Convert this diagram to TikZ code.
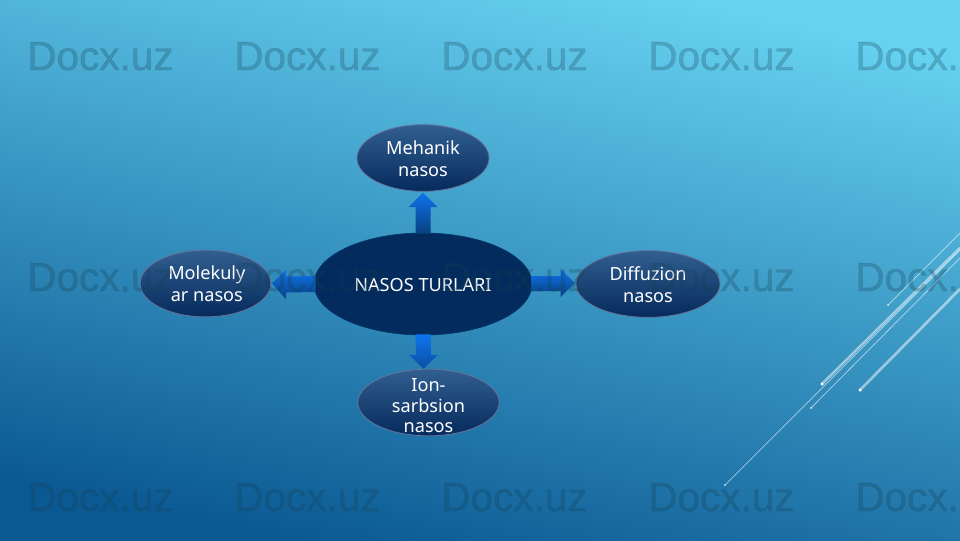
\documentclass[tikz,border=0pt]{standalone}
\usepackage{fontspec}
\setmainfont{Noto Sans}
\newfontfamily\wmfont[FakeBold=0.7]{Liberation Sans}
\usetikzlibrary{shapes.geometric,calc}
\definecolor{bgtop}{HTML}{66D1F0}
\definecolor{bgmid}{HTML}{3E9BC4}
\definecolor{bgbot}{HTML}{0B5993}
\definecolor{ovaltop}{HTML}{315F90}
\definecolor{ovalbot}{HTML}{062A5C}
\definecolor{ovaledge}{HTML}{66749A}
\definecolor{hubfill}{HTML}{032B5E}
\definecolor{arrowhi}{HTML}{0F74F0}
\definecolor{arrowlo}{HTML}{07407F}
\definecolor{wmcol}{HTML}{143F50}
\newcommand\ovalshift[3]{\smash{\raisebox{#2}{\makebox[0pt]{\fontsize{13.6}{#1}\selectfont\begin{tabular}{@{}c@{}}#3\end{tabular}}}}}
\newcommand\ovaltext[2][16.5pt]{\ovalshift{#1}{-5.8pt}{#2}}
\tikzset{
  x=.75pt,y=-.75pt,
  oval/.style={ellipse,inner sep=0pt,draw=ovaledge,line width=.6pt,top color=ovaltop,bottom color=ovalbot,text=white},
  hub/.style={ellipse,inner sep=0pt,draw=hubfill!85!teal,line width=.5pt,fill=hubfill,text=white},
  blockarrow/.style={top color=arrowhi,bottom color=arrowlo},
  blockarrowdown/.style={top color=arrowhi,bottom color=arrowlo!70!arrowhi},
  wm/.style={font=\wmfont\fontsize{30.4}{32}\selectfont,text=wmcol,opacity=.26,inner sep=0pt,anchor=base west},
  thinray/.style={white,opacity=.6,line width=.55pt},
  wideray/.style={white,opacity=.5,line width=2pt},
  raydot/.style={fill=white,circle,inner sep=0pt,minimum size=2.2pt}
}
\begin{document}
\begin{tikzpicture}
\useasboundingbox (0,0) rectangle (960,540);
\clip (0,0) rectangle (960,540);
\shade[top color=bgtop,middle color=bgmid,bottom color=bgbot,shading angle=-12] (0,0) rectangle (960,540);
% decorative rays
\coordinate (ra1) at (888,305); \coordinate (ra2) at (960,233);
\coordinate (rb1) at (822,384); \coordinate (rb2) at (960,248);
\coordinate (rc1) at (725,485); \coordinate (rc2) at (960,250);
\coordinate (rd1) at (811,408); \coordinate (rd2) at (960,258);
\coordinate (re1) at (860,390); \coordinate (re2) at (960,289);
\draw[thinray] (ra1) -- (ra2);
\draw[wideray] (rb1) -- (rb2);
\draw[thinray] (rc1) -- (rc2);
\draw[thinray] (rd1) -- (rd2);
\draw[wideray] (re1) -- (re2);
\node[raydot,minimum size=1.4pt] (da) at (ra1) {};
\node[raydot,minimum size=2.6pt] (db) at (rb1) {};
\node[raydot,minimum size=1.4pt] (dc) at (rc1) {};
\node[raydot,minimum size=1.4pt] (dd) at (rd1) {};
\node[raydot,minimum size=2.6pt] (de) at (re1) {};
% nodes
\node[hub,minimum width=163.5pt,minimum height=76.5pt] (hubn) at (423,284) {\ovaltext{NASOS TURLARI}};
\node[oval,minimum width=99pt,minimum height=50pt] (mech) at (423,158) {\ovaltext[17pt]{Mehanik\\nasos}};
\node[oval,minimum width=98pt,minimum height=50pt] (mol) at (205.5,283.5) {\ovaltext{\hspace*{2pt}Molekuly\\\hspace*{2pt}ar nasos}};
\node[oval,minimum width=108pt,minimum height=50pt] (dif) at (648,284) {\ovaltext{Diffuzion\\nasos}};
\node[oval,minimum width=106pt,minimum height=50pt] (ion) at (428.5,402.5) {\ovalshift{15.6pt}{-7.6pt}{Ion-\\sarbsion\\nasos}};
% block arrows
\shade[blockarrow] (mech.south) ++(0,1) -- ++(14.5,14.5) -- ++(-7,0) -- ($(hubn.north)+(7.5,1)$) -- ($(hubn.north)+(-7.5,1)$) -- ($(mech.south)+(-7.5,15.5)$) -- ++(-7,0) -- cycle;
\shade[blockarrow] (dif.west) ++(-1,-1) -- ++(-14,-14) -- ++(0,7) -- ($(hubn.east)+(-1,-8)$) -- ($(hubn.east)+(-1,7)$) -- ($(dif.west)+(-15,7)$) -- ++(0,6) -- cycle;
\shade[blockarrow] (mol.east) ++(1,0) -- ++(14,-14) -- ++(0,7) -- ($(hubn.west)+(2,-8)$) -- ($(hubn.west)+(2,8)$) -- ($(mol.east)+(15,9)$) -- ++(0,7) -- cycle;
\shade[blockarrowdown] ($(hubn.south)+(-7.5,-1)$) -- ($(hubn.south)+(7.5,-1)$) -- ($(ion.north)+(2.5,-14)$) -- ++(7,0) -- ($(ion.north)+(-5,0)$) -- ($(ion.north)+(-19.5,-14)$) -- ++(7,0) -- cycle;
% watermark
\foreach \yy/\rr in {70/a,291/b,511/c}{
  \foreach \xx/\cc in {27/a,234/b,441/c,648/d,855/e}{
    \node[wm] (wm\rr\cc) at (\xx,\yy) {Docx.uz};
  }
}
\end{tikzpicture}
\end{document}
